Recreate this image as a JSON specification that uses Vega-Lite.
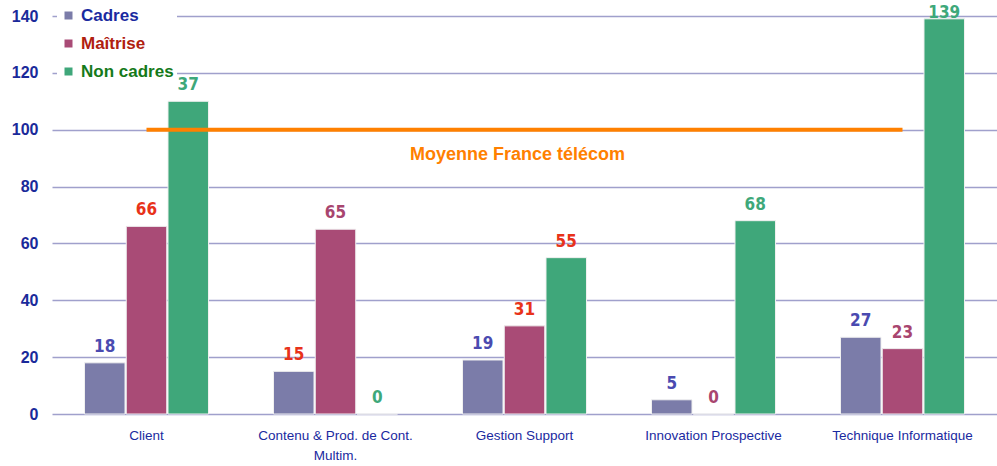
{
  "$schema": "https://vega.github.io/schema/vega-lite/v6.json",
  "width": 945,
  "height": 398,
  "autosize": {"type": "none"},
  "padding": {"left": 52, "top": 16, "right": 0, "bottom": 52},
  "background": "white",
  "config": {"view": {"stroke": null}, "font": "Liberation Sans"},
  "data": {
    "values": [
      {"category": "Client", "series": "Cadres", "value": 18, "label": "18", "tone": "bleu"},
      {"category": "Client", "series": "Maîtrise", "value": 66, "label": "66", "tone": "rouge"},
      {"category": "Client", "series": "Non cadres", "value": 110, "label": "37", "tone": "vert"},
      {"category": "Contenu & Prod. de Cont. Multim.", "series": "Cadres", "value": 15, "label": "15", "tone": "rouge"},
      {"category": "Contenu & Prod. de Cont. Multim.", "series": "Maîtrise", "value": 65, "label": "65", "tone": "mauve"},
      {"category": "Contenu & Prod. de Cont. Multim.", "series": "Non cadres", "value": 0, "label": "0", "tone": "vert"},
      {"category": "Gestion Support", "series": "Cadres", "value": 19, "label": "19", "tone": "bleu"},
      {"category": "Gestion Support", "series": "Maîtrise", "value": 31, "label": "31", "tone": "rouge"},
      {"category": "Gestion Support", "series": "Non cadres", "value": 55, "label": "55", "tone": "rouge"},
      {"category": "Innovation Prospective", "series": "Cadres", "value": 5, "label": "5", "tone": "bleu"},
      {"category": "Innovation Prospective", "series": "Maîtrise", "value": 0, "label": "0", "tone": "mauve"},
      {"category": "Innovation Prospective", "series": "Non cadres", "value": 68, "label": "68", "tone": "vert"},
      {"category": "Technique Informatique", "series": "Cadres", "value": 27, "label": "27", "tone": "bleu"},
      {"category": "Technique Informatique", "series": "Maîtrise", "value": 23, "label": "23", "tone": "mauve"},
      {"category": "Technique Informatique", "series": "Non cadres", "value": 139, "label": "139", "tone": "vert"}
    ]
  },
  "layer": [
    {
      "mark": {"type": "bar", "stroke": "#f0f0f0", "strokeWidth": 1},
      "encoding": {
        "x": {
          "field": "category", "type": "nominal",
          "sort": ["Client", "Contenu & Prod. de Cont. Multim.", "Gestion Support", "Innovation Prospective", "Technique Informatique"],
          "scale": {"paddingInner": 0.344, "paddingOuter": 0.172},
          "axis": {
            "title": null, "domain": false, "ticks": false, "labelAngle": 0,
            "labelFont": "Liberation Sans", "labelFontSize": 13.5, "labelColor": "#1a2aa0",
            "labelPadding": 14, "labelLineHeight": 20,
            "labelExpr": "datum.label == 'Contenu & Prod. de Cont. Multim.' ? ['Contenu & Prod. de Cont.', 'Multim.'] : datum.label"
          }
        },
        "xOffset": {"field": "series", "type": "nominal", "sort": ["Cadres", "Maîtrise", "Non cadres"], "scale": {"paddingInner": 0.03}},
        "y": {
          "field": "value", "type": "quantitative",
          "scale": {"domain": [0, 140], "nice": false},
          "axis": {
            "title": null, "values": [0, 20, 40, 60, 80, 100, 120, 140],
            "grid": true, "gridColor": "#a0a0cc", "gridWidth": 1.6,
            "domain": false, "ticks": false,
            "labelFont": "Liberation Sans", "labelFontWeight": "bold", "labelFontSize": 16,
            "labelColor": "#1a2a9a", "labelPadding": 14
          }
        },
        "color": {
          "field": "series", "type": "nominal",
          "scale": {"domain": ["Cadres", "Maîtrise", "Non cadres"], "range": ["#7b7ca9", "#a94b76", "#3fa77a"]},
          "legend": {
            "title": null, "orient": "none", "legendX": 5, "legendY": -12,
            "symbolType": "square", "symbolSize": 64, "symbolStrokeWidth": 0,
            "labelFont": "Liberation Sans", "labelFontWeight": "bold", "labelFontSize": 17,
            "labelOffset": 4, "rowPadding": 10, "padding": 3, "fillColor": "white",
            "labelColor": {"expr": "datum.value == 'Cadres' ? '#1a2aa0' : datum.value == 'Maîtrise' ? '#b0200f' : '#157a1a'"}
          }
        }
      }
    },
    {
      "transform": [{"calculate": "min(datum.value, 135.5)", "as": "labelAt"}],
      "mark": {"type": "text", "baseline": "bottom", "dy": -7, "font": "DejaVu Sans Condensed", "fontWeight": "bold", "fontSize": 17},
      "encoding": {
        "x": {"field": "category", "type": "nominal", "sort": ["Client", "Contenu & Prod. de Cont. Multim.", "Gestion Support", "Innovation Prospective", "Technique Informatique"]},
        "xOffset": {"field": "series", "type": "nominal", "sort": ["Cadres", "Maîtrise", "Non cadres"]},
        "y": {"field": "labelAt", "type": "quantitative"},
        "text": {"field": "label"},
        "color": {
          "field": "tone", "type": "nominal",
          "scale": {"domain": ["bleu", "rouge", "mauve", "vert"], "range": ["#4a4ab0", "#e8321a", "#a8456f", "#3ea87a"]},
          "legend": null
        }
      }
    },
    {
      "data": {"values": [{"from": "Client", "to": "Technique Informatique", "level": 100}]},
      "mark": {"type": "rule", "color": "#ff8000", "strokeWidth": 4},
      "encoding": {
        "x": {"field": "from", "type": "nominal", "sort": ["Client", "Contenu & Prod. de Cont. Multim.", "Gestion Support", "Innovation Prospective", "Technique Informatique"]},
        "x2": {"field": "to"},
        "y": {"field": "level", "type": "quantitative"}
      }
    },
    {
      "data": {"values": [{"where": "Gestion Support", "level": 91, "text": "Moyenne France télécom"}]},
      "mark": {"type": "text", "color": "#ff8000", "font": "Liberation Sans", "fontWeight": "bold", "fontSize": 18, "dx": -7},
      "encoding": {
        "x": {"field": "where", "type": "nominal", "sort": ["Client", "Contenu & Prod. de Cont. Multim.", "Gestion Support", "Innovation Prospective", "Technique Informatique"]},
        "y": {"field": "level", "type": "quantitative"},
        "text": {"field": "text"}
      }
    }
  ],
  "resolve": {"scale": {"color": "independent"}}
}
